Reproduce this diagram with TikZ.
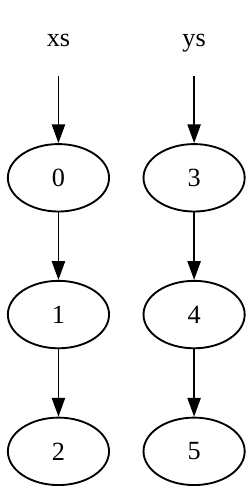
\documentclass[tikz,border=0pt]{standalone}
\usepackage{fontspec}
\setmainfont{Liberation Serif}
\usetikzlibrary{arrows.meta,positioning,shapes.geometric}

\begin{document}
\begin{tikzpicture}[
  font=\fontsize{14}{16}\selectfont,
  lbl/.style={minimum width=54pt,minimum height=36pt,inner sep=0pt,
              text height=1.6ex,text depth=0.4ex},
  elem/.style={ellipse,draw=black,line width=1pt,
               minimum width=54pt,minimum height=36pt,inner sep=0pt},
  arr/.style={-{Triangle[length=10pt,width=7pt]},line width=1pt,color=black},
  node distance=36pt and 18pt
]
\node[lbl] (xs) {xs};
\node[lbl,right=of xs] (ys) {ys};
\node[elem,below=of xs] (n0) {0};
\node[elem,below=of n0] (n1) {1};
\node[elem,below=of n1] (n2) {2};
\node[elem,below=of ys] (n3) {3};
\node[elem,below=of n3] (n4) {4};
\node[elem,below=of n4] (n5) {5};
\draw[arr] (xs) -- (n0);
\draw[arr] (n0) -- (n1);
\draw[arr] (n1) -- (n2);
\draw[arr] (ys) -- (n3);
\draw[arr] (n3) -- (n4);
\draw[arr] (n4) -- (n5);
\path[use as bounding box] ([shift={(-4pt,4pt)}]xs.north west) rectangle ([shift={(4pt,-4pt)}]n5.south east);
\end{tikzpicture}
\end{document}
